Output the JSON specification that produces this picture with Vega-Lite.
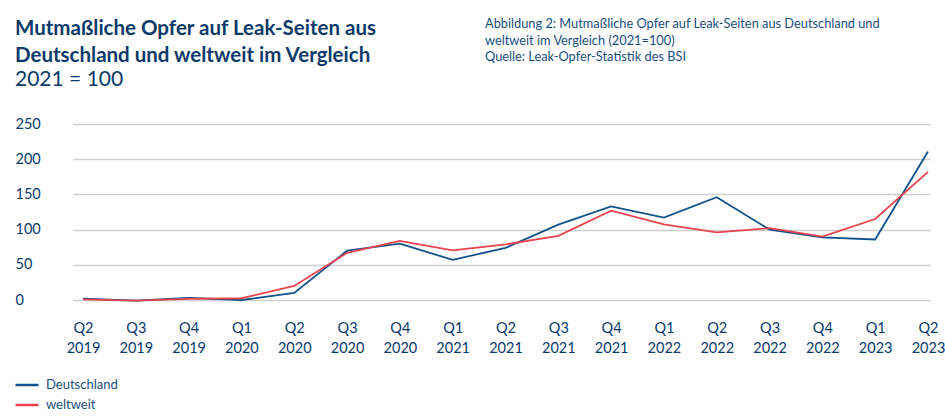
{
  "$schema": "https://vega.github.io/schema/vega-lite/v6.json",
  "padding": {"left": 14, "top": 18, "right": 8, "bottom": 4},
  "config": {"view": {"stroke": null}, "font": "Lato", "background": "white"},
  "spacing": 25,
  "vconcat": [
    {
      "spacing": 20,
      "hconcat": [
        {
          "width": 392, "height": 1,
          "data": {"values": []},
          "mark": "text",
          "title": {
            "text": ["Mutmaßliche Opfer auf Leak-Seiten aus", "Deutschland und weltweit im Vergleich"],
            "subtitle": "2021 = 100",
            "anchor": "start", "frame": "group", "dx": -58,
            "font": "Lato", "fontSize": 20.5, "fontWeight": "bold", "color": "#0b3a6b", "lineHeight": 27,
            "subtitleFont": "Lato", "subtitleFontSize": 21, "subtitleColor": "#0b3a6b", "subtitlePadding": 3,
            "offset": 0
          }
        },
        {
          "width": 440, "height": 1,
          "data": {"values": []},
          "mark": "text",
          "title": {
            "text": ["Abbildung 2: Mutmaßliche Opfer auf Leak-Seiten aus Deutschland und", "weltweit im Vergleich (2021=100)", "Quelle: Leak-Opfer-Statistik des BSI"],
            "anchor": "start", "frame": "group", "dy": -26,
            "font": "Lato", "fontSize": 12.8, "fontWeight": "normal", "color": "#1a4e80", "lineHeight": 16.5,
            "offset": 0
          }
        }
      ]
    },
    {
      "width": 857,
      "height": 176,
      "data": {"values": [
        {"quarter": "Q2 2019", "series": "Deutschland", "value": 2},
        {"quarter": "Q3 2019", "series": "Deutschland", "value": -1},
        {"quarter": "Q4 2019", "series": "Deutschland", "value": 3},
        {"quarter": "Q1 2020", "series": "Deutschland", "value": 0},
        {"quarter": "Q2 2020", "series": "Deutschland", "value": 10},
        {"quarter": "Q3 2020", "series": "Deutschland", "value": 70},
        {"quarter": "Q4 2020", "series": "Deutschland", "value": 80},
        {"quarter": "Q1 2021", "series": "Deutschland", "value": 57},
        {"quarter": "Q2 2021", "series": "Deutschland", "value": 74},
        {"quarter": "Q3 2021", "series": "Deutschland", "value": 107},
        {"quarter": "Q4 2021", "series": "Deutschland", "value": 133},
        {"quarter": "Q1 2022", "series": "Deutschland", "value": 117},
        {"quarter": "Q2 2022", "series": "Deutschland", "value": 146},
        {"quarter": "Q3 2022", "series": "Deutschland", "value": 100},
        {"quarter": "Q4 2022", "series": "Deutschland", "value": 89},
        {"quarter": "Q1 2023", "series": "Deutschland", "value": 86},
        {"quarter": "Q2 2023", "series": "Deutschland", "value": 211},
        {"quarter": "Q2 2019", "series": "weltweit", "value": 1},
        {"quarter": "Q3 2019", "series": "weltweit", "value": -1},
        {"quarter": "Q4 2019", "series": "weltweit", "value": 1.5},
        {"quarter": "Q1 2020", "series": "weltweit", "value": 2.5},
        {"quarter": "Q2 2020", "series": "weltweit", "value": 20},
        {"quarter": "Q3 2020", "series": "weltweit", "value": 67},
        {"quarter": "Q4 2020", "series": "weltweit", "value": 84},
        {"quarter": "Q1 2021", "series": "weltweit", "value": 70.5},
        {"quarter": "Q2 2021", "series": "weltweit", "value": 79},
        {"quarter": "Q3 2021", "series": "weltweit", "value": 91},
        {"quarter": "Q4 2021", "series": "weltweit", "value": 127},
        {"quarter": "Q1 2022", "series": "weltweit", "value": 107.5},
        {"quarter": "Q2 2022", "series": "weltweit", "value": 96},
        {"quarter": "Q3 2022", "series": "weltweit", "value": 102},
        {"quarter": "Q4 2022", "series": "weltweit", "value": 90},
        {"quarter": "Q1 2023", "series": "weltweit", "value": 115},
        {"quarter": "Q2 2023", "series": "weltweit", "value": 182}
      ]},
      "mark": {"type": "line", "strokeWidth": 1.8, "clip": false},
      "encoding": {
        "x": {
          "field": "quarter", "type": "ordinal", "sort": null,
          "scale": {"type": "point", "padding": 0.1136, "align": 0.833},
          "axis": {
            "title": null, "labelAngle": 0, "domain": false, "ticks": false, "grid": false,
            "labelExpr": "split(datum.label, ' ')",
            "labelFont": "Lato", "labelFontSize": 14.5, "labelColor": "#0b3a6b",
            "labelPadding": 21, "labelLineHeight": 20
          }
        },
        "y": {
          "field": "value", "type": "quantitative",
          "scale": {"domain": [0, 250]},
          "axis": {
            "title": null, "values": [0, 50, 100, 150, 200, 250],
            "domain": false, "ticks": false,
            "labelAlign": "left", "labelPadding": 58,
            "labelFont": "Lato", "labelFontSize": 14.5, "labelColor": "#0b3a6b",
            "gridColor": "#d0d0d0", "gridWidth": 1.5
          }
        },
        "color": {
          "field": "series", "type": "nominal",
          "scale": {"domain": ["Deutschland", "weltweit"], "range": ["#11528a", "#e8434f"]},
          "legend": {
            "title": null, "orient": "none", "legendX": -59, "legendY": 282,
            "direction": "vertical",
            "symbolType": "stroke", "symbolSize": 529, "symbolStrokeWidth": 2.5,
            "rowPadding": -2, "labelOffset": 6,
            "labelFont": "Lato", "labelFontSize": 13, "labelColor": "#1a4e80"
          }
        }
      }
    }
  ]
}
